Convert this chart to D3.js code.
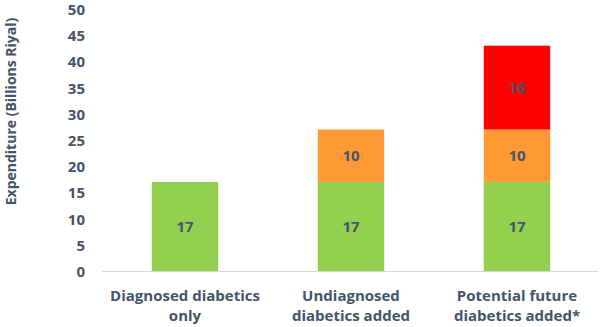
<!DOCTYPE html>
<html><head><meta charset="utf-8">
<script src="https://cdn.jsdelivr.net/npm/d3@7"></script>
<style>body{margin:0;background:#fff}svg{display:block}text{font-family:"Open Sans",Lato,sans-serif;font-weight:bold;fill:#44546A}</style>
</head><body><svg id="c" width="600" height="327"></svg>
<script>
const categories = [["Diagnosed diabetics","only"],["Undiagnosed","diabetics added"],["Potential future","diabetics added*"]];
const seriesNames = ["Diagnosed","Undiagnosed","Future"];
const diagnosed = [17,17,17];
const undiagnosed = [0,10,10];
const future = [0,0,16];
const colors = ["#92D050","#FF9933","#FF0000"];
const yTicks = [0,5,10,15,20,25,30,35,40,45,50];
const yTitle = "Expenditure (Billions Riyal)";

const svg = d3.select("#c");
const x = d3.scaleBand().domain(d3.range(categories.length)).range([102,600]).paddingInner(0.6).paddingOuter(0.3);
const y = d3.scaleLinear().domain([0,50]).range([271,9]);

const rows = categories.map((c,i)=>({i, Diagnosed:diagnosed[i], Undiagnosed:undiagnosed[i], Future:future[i]}));
const stack = d3.stack().keys(seriesNames)(rows);

svg.append("line").attr("x1",102).attr("x2",598).attr("y1",y(0)+0.5).attr("y2",y(0)+0.5).attr("stroke","#D9D9D9").attr("stroke-width",1);

stack.forEach((layer,k)=>{
  const g = svg.append("g");
  layer.forEach((d,i)=>{
    const v = d[1]-d[0];
    if(!v) return;
    g.append("rect").attr("x",x(i)).attr("width",x.bandwidth()).attr("y",y(d[1])).attr("height",y(d[0])-y(d[1])).attr("fill",colors[k]);
    g.append("text").attr("x",x(i)+x.bandwidth()/2).attr("y",(y(d[0])+y(d[1]))/2).attr("dy","0.36em").attr("text-anchor","middle").style("font-size","15px").text(v);
  });
});

const ya = svg.append("g").attr("transform","translate(85,0)").call(d3.axisLeft(y).tickValues(yTicks).tickSize(0).tickPadding(0));
ya.select(".domain").remove();
ya.selectAll("text").style("font-size","15px").style("font-family",null).attr("fill",null).attr("dy","0.36em");

categories.forEach((c,i)=>{
  const t = svg.append("text").attr("text-anchor","middle").attr("x",x(i)+x.bandwidth()/2).style("font-size","15px");
  c.forEach((line,j)=>t.append("tspan").attr("x",x(i)+x.bandwidth()/2).attr("y",301+j*20).text(line));
});

svg.append("text").attr("transform","translate(16,111.5) rotate(-90)").attr("text-anchor","middle").style("font-size","14px").text(yTitle);
</script></body></html>
